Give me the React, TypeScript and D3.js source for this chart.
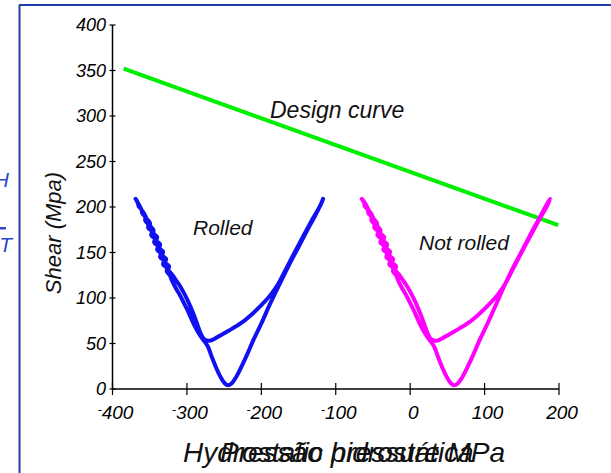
import React from "react";
import * as d3 from "d3";

// Axis ticks
const xTicks = [-400, -300, -200, -100, 0, 100, 200];
const yTicks = [0, 50, 100, 150, 200, 250, 300, 350, 400];

// Design curve end points: [pressure, shear]
const designCurve: [number, number][] = [
  [-385, 352],
  [199, 180],
];

// Rolled specimen: shear vs hydrostatic pressure loop
const rolled: [number, number][] = [
  [-369, 209], [-366, 205], [-365, 201], [-361, 197], [-360, 193], [-356, 189], [-356, 185],
  [-352, 181], [-352, 177], [-347, 173], [-348, 169], [-343, 165], [-344, 161], [-339, 157],
  [-340, 153], [-335, 149], [-336, 145], [-331, 141], [-332, 137], [-327, 133], [-327, 129],
  [-323, 125], [-320, 119], [-315, 111], [-310, 104], [-305, 96], [-300, 88], [-295, 79],
  [-290, 70], [-284, 61], [-278, 54], [-272, 47], [-266, 34], [-260, 22], [-254, 12],
  [-249, 6], [-245, 4], [-240, 6], [-234, 13], [-227, 24], [-219, 38], [-210, 55],
  [-200, 72], [-188, 94], [-175, 116], [-163, 136], [-150, 156], [-138, 175], [-126, 193],
  [-119, 205], [-117, 209],
  [-120, 203], [-131, 187], [-143, 169], [-156, 149], [-168, 130], [-177, 116], [-187, 104],
  [-199, 93], [-213, 82], [-228, 72], [-244, 64], [-259, 57], [-270, 53], [-277, 55],
  [-282, 62], [-286, 71], [-290, 80], [-295, 90], [-300, 99], [-305, 107], [-310, 114],
  [-316, 121], [-320, 126], [-325, 131], [-324, 135], [-329, 139], [-328, 143], [-333, 147],
  [-332, 151], [-337, 155], [-336, 159], [-341, 163], [-340, 167], [-345, 171], [-345, 175],
  [-349, 179], [-350, 183], [-354, 187], [-357, 192], [-361, 197], [-364, 202], [-367, 206],
  [-368, 208],
];

// Not rolled specimen
const notRolled: [number, number][] = [
  [-65, 209], [-62, 205], [-61, 201], [-57, 197], [-56, 193], [-52, 189], [-52, 185],
  [-48, 181], [-48, 177], [-43, 173], [-44, 169], [-39, 165], [-40, 161], [-35, 157],
  [-36, 153], [-31, 149], [-32, 145], [-27, 141], [-28, 137], [-23, 133], [-23, 129],
  [-19, 125], [-16, 119], [-11, 111], [-6, 104], [-1, 96], [4, 88], [9, 79],
  [14, 70], [20, 61], [26, 54], [32, 47], [38, 34], [44, 22], [50, 12],
  [55, 6], [59, 4], [64, 6], [70, 13], [77, 24], [85, 38], [94, 55],
  [104, 72], [116, 94], [128, 116], [140, 136], [153, 156], [165, 175], [177, 193],
  [185, 205], [188, 209],
  [185, 203], [174, 187], [162, 169], [149, 149], [137, 130], [128, 116], [118, 104],
  [106, 93], [92, 82], [77, 72], [61, 64], [46, 57], [35, 53], [28, 55],
  [23, 62], [19, 71], [15, 80], [10, 90], [5, 99], [0, 107], [-5, 114],
  [-11, 121], [-15, 126], [-20, 131], [-19, 135], [-24, 139], [-23, 143], [-28, 147],
  [-27, 151], [-32, 155], [-31, 159], [-36, 163], [-35, 167], [-40, 171], [-40, 175],
  [-44, 179], [-45, 183], [-49, 187], [-52, 192], [-56, 197], [-59, 202], [-62, 206],
  [-64, 208],
];

const FONT = "'Liberation Sans', Arial, Helvetica, sans-serif";
const FRAME = "#1f3ea8";
const SIDE_TEXT = "#2a48c8";

export default function App() {
  const x = d3.scaleLinear().domain([-400, 200]).range([112.5, 559]);
  const y = d3.scaleLinear().domain([0, 400]).range([389, 25]);

  const loop = d3
    .line<[number, number]>()
    .x((d) => x(d[0]))
    .y((d) => y(d[1]))
    .curve(d3.curveCatmullRom.alpha(0.5));
  const straight = d3
    .line<[number, number]>()
    .x((d) => x(d[0]))
    .y((d) => y(d[1]));

  const x0 = x(-400);
  const y0 = y(0);

  return (
    <svg
      width={611}
      height={473}
      style={{ position: "absolute", left: 0, top: 0, background: "#fff" }}
      fontFamily={FONT}
    >
      <rect x={0} y={0} width={611} height={473} fill="#fff" />

      {/* slide frame */}
      <line x1={19.5} y1={5} x2={19.5} y2={473} stroke={FRAME} strokeWidth={2} />
      <line x1={19} y1={5} x2={611} y2={5} stroke={FRAME} strokeWidth={2} />

      {/* text cut by the left page edge */}
      <text x={9} y={187} textAnchor="end" fontSize={21} fontStyle="italic" fill={SIDE_TEXT}>
        H
      </text>
      <rect x={0} y={227} width={6} height={2.5} fill={SIDE_TEXT} />
      <text x={12} y={252} textAnchor="end" fontSize={21} fontStyle="italic" fill={SIDE_TEXT}>
        T
      </text>

      {/* y axis */}
      <line x1={x0} y1={y(400)} x2={x0} y2={y0} stroke="#000" strokeWidth={1.5} />
      {yTicks.map((t) => (
        <g key={`y${t}`}>
          <line x1={x0 - 3} x2={x0 + 3} y1={y(t)} y2={y(t)} stroke="#000" strokeWidth={1.2} />
          <text x={106} y={y(t) + 6} textAnchor="end" fontSize={18} fontStyle="italic" fill="#000">
            {t}
          </text>
        </g>
      ))}

      {/* x axis */}
      <line x1={x0} y1={y0} x2={x(200)} y2={y0} stroke="#000" strokeWidth={1.5} />
      {xTicks.map((t) => (
        <g key={`x${t}`}>
          <line x1={x(t)} x2={x(t)} y1={y0 - 6} y2={y0 + 6} stroke="#000" strokeWidth={1.2} />
          <text x={x(t) + 3} y={419} textAnchor="middle" fontSize={19} fontStyle="italic" fill="#000">
            {t < 0 && (
              <tspan fontSize={12} dy={-5}>
                -
              </tspan>
            )}
            <tspan dy={t < 0 ? 5 : 0}>{Math.abs(t)}</tspan>
          </text>
        </g>
      ))}

      {/* axis titles */}
      <text
        transform="translate(61,233) rotate(-90)"
        textAnchor="middle"
        fontSize={22}
        fontStyle="italic"
        fill="#111"
      >
        Shear (Mpa)
      </text>
      <text x={183} y={462} fontSize={28} fontStyle="italic" fill="#111">
        Hydrostatic pressure MPa
      </text>
      <text x={220} y={462} fontSize={28} fontStyle="italic" fill="#111">
        Pressão hidrostática
      </text>

      {/* data */}
      <path d={straight(designCurve) ?? ""} fill="none" stroke="#00ee00" strokeWidth={4} />
      <path
        d={loop(rolled) ?? ""}
        fill="none"
        stroke="#1010f0"
        strokeWidth={4}
        strokeLinejoin="round"
        strokeLinecap="round"
      />
      <path
        d={loop(notRolled) ?? ""}
        fill="none"
        stroke="#ff00ff"
        strokeWidth={4}
        strokeLinejoin="round"
        strokeLinecap="round"
      />

      {/* annotations */}
      <text x={270} y={118} fontSize={23} fontStyle="italic" fill="#111">
        Design curve
      </text>
      <text x={193} y={235} fontSize={21} fontStyle="italic" fill="#111">
        Rolled
      </text>
      <text x={419} y={250} fontSize={21} fontStyle="italic" fill="#111">
        Not rolled
      </text>
    </svg>
  );
}
